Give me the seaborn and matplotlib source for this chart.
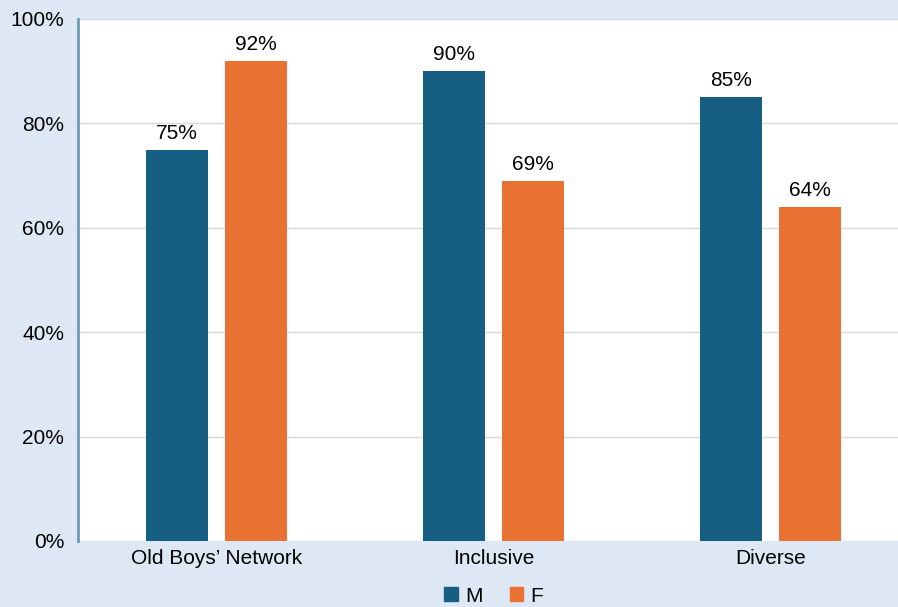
import pandas as pd
import seaborn as sns
import matplotlib.pyplot as plt
from matplotlib.ticker import PercentFormatter

categories = ["Old Boys\u2019 Network", "Inclusive", "Diverse"]
m_values = [75, 90, 85]
f_values = [92, 69, 64]
series = ["M", "F"]

df = pd.DataFrame({
    "category": categories * 2,
    "gender": ["M"] * 3 + ["F"] * 3,
    "value": m_values + f_values,
})

bg = "#dde8f4"
palette = {"M": "#175f82", "F": "#e97132"}

plt.rcParams["font.family"] = ["Liberation Sans", "DejaVu Sans"]

fig = plt.figure(figsize=(8.98, 6.07), dpi=100, facecolor=bg)
ax = fig.add_axes([78 / 898, 1 - 541 / 607, 831 / 898, 522 / 607])
ax.set_facecolor("white")

sns.barplot(data=df, x="category", y="value", hue="gender", hue_order=series,
            palette=palette, width=0.57, gap=0.21, saturation=1,
            ax=ax, legend=False)

for cont in ax.containers:
    ax.bar_label(cont, labels=[f"{v:.0f}%" for v in cont.datavalues],
                 padding=5, fontsize=15)

ax.set_xlim(-0.5, 2.5)
ax.set_ylim(0, 100)
ax.set_yticks(range(0, 101, 20))
ax.yaxis.set_major_formatter(PercentFormatter(decimals=0))
ax.grid(axis="y", color="#d9d9d9", linewidth=1)
ax.set_axisbelow(True)
for s in ["top", "right", "bottom"]:
    ax.spines[s].set_visible(False)
ax.spines["left"].set_color("#6b9bb5")
ax.spines["left"].set_linewidth(2)
ax.tick_params(axis="y", length=0, pad=10, labelsize=15)
ax.tick_params(axis="x", length=0, pad=6, labelsize=15)
ax.set_xlabel("")
ax.set_ylabel("")

handles = [plt.Rectangle((0, 0), 1, 1, color=palette[s]) for s in series]
fig.legend(handles, series, loc="center", bbox_to_anchor=(494 / 898, 1 - 596 / 607),
           ncol=2, frameon=False, fontsize=15, handlelength=0.65, handleheight=0.65,
           columnspacing=1.3, handletextpad=0.35)

fig.savefig("out.png", dpi=100, facecolor=bg)
